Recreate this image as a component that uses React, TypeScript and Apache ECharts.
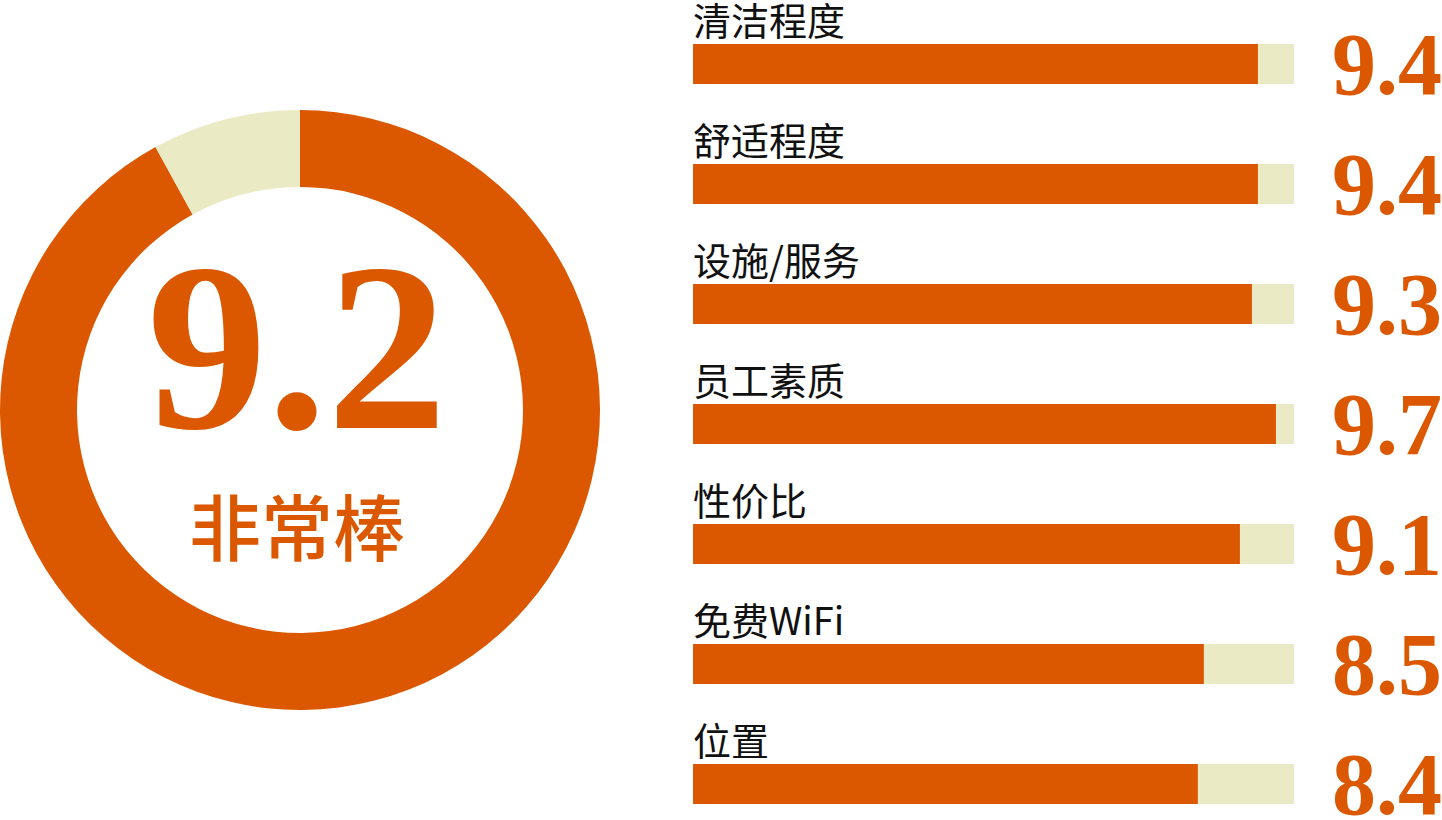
import React, { useEffect, useRef } from "react";
import * as echarts from "echarts";

const categories = ["清洁程度", "舒适程度", "设施/服务", "员工素质", "性价比", "免费WiFi", "位置"];
const scores = [9.4, 9.4, 9.3, 9.7, 9.1, 8.5, 8.4];
const scoreLabels = ["9.4", "9.4", "9.3", "9.7", "9.1", "8.5", "8.4"];
const overallScore = 9.2;
const overallText = "9.2";
const overallLabel = "非常棒";
const maxScore = 10;

const ORANGE = "#DB5800";
const BEIGE = "#EAEAC5";

export default function App() {
  const ref = useRef<HTMLDivElement>(null);
  useEffect(() => {
    const chart = echarts.init(ref.current!, null, { renderer: "svg" });
    chart.setOption({
      animation: false,
      grid: {
        left: 693,
        top: 64,
        width: 601,
        height: 720,
        containLabel: false,
        outerBoundsMode: "none",
      },
      xAxis: { type: "value", min: 0, max: maxScore, show: false },
      yAxis: [
        {
          type: "category",
          data: categories,
          inverse: true,
          boundaryGap: false,
          axisLine: { show: false },
          axisTick: { show: false },
          axisLabel: { show: false },
          splitLine: { show: false },
        },
        {
          type: "category",
          data: scoreLabels,
          inverse: true,
          boundaryGap: false,
          position: "right",
          axisLine: { show: false },
          axisTick: { show: false },
          splitLine: { show: false },
          axisLabel: {
            show: true,
            interval: 0,
            hideOverlap: false,
            margin: 93,
            align: "center",
            verticalAlign: "middle",
            lineHeight: 68,
            fontFamily: "Liberation Serif",
            fontWeight: "bold",
            fontSize: 88,
            color: ORANGE,
          },
        },
      ],
      series: [
        {
          type: "bar",
          data: scores,
          barWidth: 40,
          silent: true,
          showBackground: true,
          backgroundStyle: { color: BEIGE },
          itemStyle: { color: ORANGE },
          label: {
            show: true,
            position: [0, -26],
            align: "left",
            verticalAlign: "middle",
            lineHeight: 36,
            formatter: "{b}",
            fontFamily: "Noto Sans CJK SC",
            fontSize: 38,
            color: "#111",
          },
        },
        {
          type: "pie",
          center: [300, 410],
          radius: [223, 300],
          startAngle: 90,
          clockwise: true,
          silent: true,
          label: { show: false },
          labelLine: { show: false },
          data: [
            { value: overallScore, itemStyle: { color: ORANGE } },
            { value: maxScore - overallScore, itemStyle: { color: BEIGE } },
          ],
        },
      ],
      graphic: [
        {
          type: "text",
          x: 297,
          y: 347,
          style: {
            text: overallText,
            fill: ORANGE,
            font: "bold 240px 'Liberation Serif'",
            align: "center",
            verticalAlign: "middle",
          },
        },
        {
          type: "text",
          x: 297,
          y: 523,
          style: {
            text: overallLabel,
            fill: ORANGE,
            font: "500 72px 'Noto Sans CJK SC'",
            align: "center",
            verticalAlign: "middle",
          },
        },
      ],
    });
    return () => chart.dispose();
  }, []);
  return (
    <div
      ref={ref}
      style={{ position: "absolute", left: 0, top: 0, width: 1442, height: 820 }}
    />
  );
}
